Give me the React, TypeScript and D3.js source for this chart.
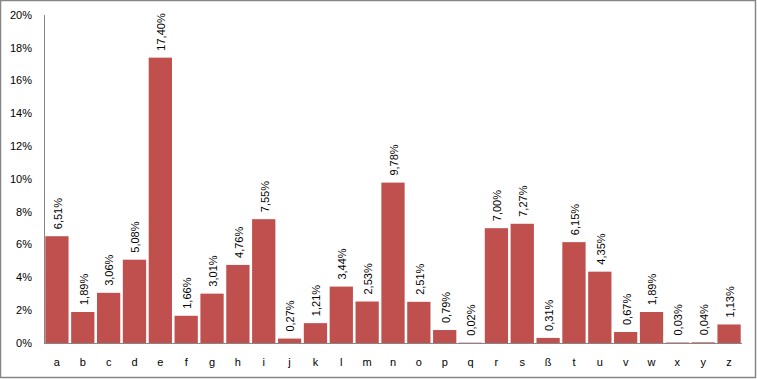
import React from "react";
import * as d3 from "d3";

const letters = ["a","b","c","d","e","f","g","h","i","j","k","l","m","n","o","p","q","r","s","ß","t","u","v","w","x","y","z"];
const values = [6.51,1.89,3.06,5.08,17.40,1.66,3.01,4.76,7.55,0.27,1.21,3.44,2.53,9.78,2.51,0.79,0.02,7.00,7.27,0.31,6.15,4.35,0.67,1.89,0.03,0.04,1.13];
const yTicks = [0,2,4,6,8,10,12,14,16,18,20];

const W = 757, H = 379;
const left = 44, right = 742, top = 15, bottom = 343;
const font = "'Liberation Sans', Arial, sans-serif";

export default function App() {
  const x = d3.scaleBand<string>().domain(letters).range([left, right]).paddingInner(0.1).paddingOuter(0.05);
  const y = d3.scaleLinear().domain([0, 20]).range([bottom, top]);
  const fmt = (v: number) => v.toFixed(2).replace(".", ",") + "%";
  return (
    <svg width={W} height={H} style={{ position: "absolute", left: 0, top: 0 }} fontFamily={font}>
      <rect x={0.5} y={0.5} width={W - 2} height={H - 2} fill="#fff" stroke="#868686" strokeWidth={1.5} />
      {letters.map((l, i) => (
        <rect key={l} x={x(l)} y={y(values[i])} width={x.bandwidth()} height={bottom - y(values[i])} fill="#C0504D" />
      ))}
      <line x1={left + 0.5} x2={left + 0.5} y1={top} y2={bottom} stroke="#868686" />
      <line x1={left} x2={right} y1={bottom + 0.5} y2={bottom + 0.5} stroke="#868686" />
      {yTicks.map((t) => (
        <text key={t} x={32} y={y(t)} dy="0.35em" textAnchor="end" fontSize={11} fill="#000">{t}%</text>
      ))}
      {letters.map((l) => (
        <text key={l} x={(x(l) as number) + x.bandwidth() / 2} y={362} dy="0.35em" textAnchor="middle" fontSize={11} fill="#000">{l}</text>
      ))}
      {letters.map((l, i) => {
        const cx = (x(l) as number) + x.bandwidth() / 2 + 1;
        const cy = y(values[i]) - 7;
        return (
          <text key={l} transform={`translate(${cx},${cy}) rotate(-90)`} dy="0.35em" textAnchor="start" fontSize={11} fill="#000">{fmt(values[i])}</text>
        );
      })}
    </svg>
  );
}
